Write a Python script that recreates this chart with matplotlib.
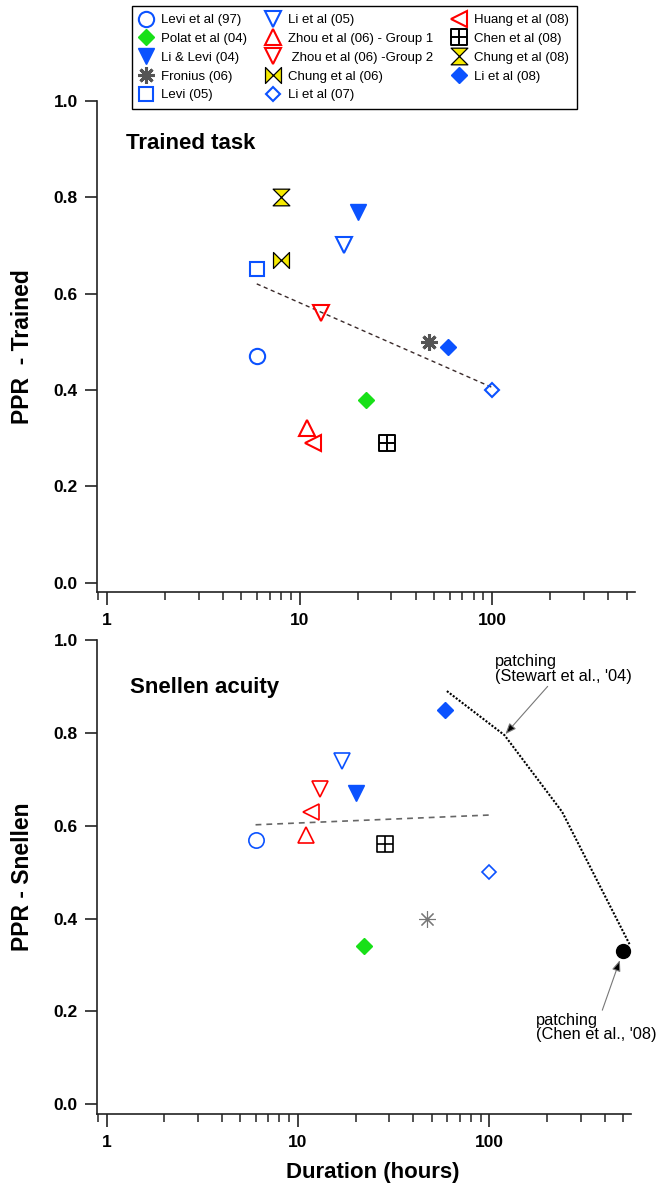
import matplotlib
matplotlib.use('Agg')
import matplotlib.pyplot as plt
import numpy as np
from matplotlib.path import Path
from matplotlib.ticker import LogLocator, NullFormatter

plt.rcParams['font.family'] = ['Liberation Sans', 'DejaVu Sans']

# ---- data ----
studies = ['Levi et al (97)', 'Polat et al (04)', 'Li & Levi (04)', 'Fronius (06)', 'Levi (05)',
           'Li et al (05)', 'Zhou et al (06) - Group 1', ' Zhou et al (06) -Group 2', 'Chung et al (06)',
           'Li et al (07)', 'Huang et al (08)', 'Chen et al (08)', 'Chung et al (08)', 'Li et al (08)']
hours = [6, 22, 20, 47, 6, 17, 11, 13, 8, 100, 11.7, 28.5, 8, 59]
ppr_trained = [0.47, 0.38, 0.77, 0.50, 0.65, 0.70, 0.32, 0.56, 0.67, 0.40, 0.29, 0.29, 0.80, 0.49]
ppr_snellen = [0.57, 0.34, 0.67, 0.40, np.nan, 0.74, 0.58, 0.68, np.nan, 0.50, 0.63, 0.56, np.nan, 0.85]

# trend lines
trained_fit_x = [6, 100]
trained_fit_y = [0.62, 0.405]
snellen_fit_x = [6, 100]
snellen_fit_y = [0.602, 0.623]

# patching (Stewart et al '04) curve and Chen et al '08 point
stewart_x = [60, 120, 240, 540]
stewart_y = [0.89, 0.795, 0.63, 0.345]
chen_patch_x = [500]
chen_patch_y = [0.33]

# ---- styles ----
BLUE = '#0b52ff'
GREEN = '#18e018'
RED = '#ff0000'
YELLOW = '#f6ea00'

hourglass = Path([(-1, 1), (1, 1), (-1, -1), (1, -1), (-1, 1)],
                 [Path.MOVETO, Path.LINETO, Path.LINETO, Path.LINETO, Path.CLOSEPOLY])
bowtie = Path([(-1, 1), (-1, -1), (1, 1), (1, -1), (-1, 1)],
              [Path.MOVETO, Path.LINETO, Path.LINETO, Path.LINETO, Path.CLOSEPOLY])
boxplus = Path([(-1, -1), (1, -1), (1, 1), (-1, 1), (-1, -1),
                (0, -1), (0, 1), (-1, 0), (1, 0)],
               [Path.MOVETO, Path.LINETO, Path.LINETO, Path.LINETO, Path.CLOSEPOLY,
                Path.MOVETO, Path.LINETO, Path.MOVETO, Path.LINETO])

markers = ['o', 'D', 'v', (8, 2, 0), 's', 'v', '^', 'v', bowtie, 'D', '<', boxplus, hourglass, 'D']
sizes = [11, 8, 11.5, 12, 10.5, 11.5, 11.5, 11.5, 11.5, 7.5, 11, 11, 12, 8]
faces = ['none', GREEN, BLUE, 'none', 'none', 'none', 'none', 'none', YELLOW, 'none', 'none', 'white', YELLOW, BLUE]
edges = [BLUE, GREEN, BLUE, '#555555', BLUE, BLUE, RED, RED, 'black', BLUE, RED, 'black', 'black', BLUE]
ew_top = [1.5, 1, 1, 2.2, 1.5, 1.5, 1.5, 1.5, 0.9, 1.5, 1.5, 1.4, 0.9, 1]
ew_bot = [1.2, 1, 1, 0.8, 1.2, 1.2, 1.2, 1.2, 0.9, 1.2, 1.2, 1.2, 0.9, 1]

fig = plt.figure(figsize=(6.58, 11.86), dpi=100)
ax1 = fig.add_axes([0.14696, 0.50059, 0.81809, 0.41450])
ax2 = fig.add_axes([0.14696, 0.06046, 0.81201, 0.39992])

for i, name in enumerate(studies):
	ax1.plot(hours[i], ppr_trained[i], linestyle='none', marker=markers[i], ms=sizes[i],
	         mfc=faces[i], mec=edges[i], mew=ew_top[i], label=name, zorder=3)
	if not np.isnan(ppr_snellen[i]):
		# Fronius is drawn lighter and thinner in the lower panel
		ax2.plot(hours[i], ppr_snellen[i], linestyle='none', marker=markers[i], ms=sizes[i],
		         mfc=faces[i], mec=edges[i] if i != 3 else '#777777', mew=ew_bot[i], zorder=3)

ax1.plot(trained_fit_x, trained_fit_y, color='#3a2a2a', lw=1.0, ls=(0, (3, 2.5)), zorder=2)
ax2.plot(snellen_fit_x, snellen_fit_y, color='#666666', lw=1.2, ls=(0, (3.5, 3)), zorder=2)
ax2.plot(stewart_x, stewart_y, color='black', lw=1.5, ls=(0, (1, 0.8)), zorder=2)
ax2.plot(chen_patch_x, chen_patch_y, 'o', color='black', ms=10, zorder=3)

ax1.text(0.055, 0.913, 'Trained task', transform=ax1.transAxes, fontsize=16, fontweight='bold',
         ha='left', va='center')
ax2.text(0.062, 0.900, 'Snellen acuity', transform=ax2.transAxes, fontsize=16, fontweight='bold',
         ha='left', va='center')

arrow = dict(arrowstyle='-|>,head_length=0.55,head_width=0.22', fc='black', ec='#777777', lw=0.8,
             shrinkA=0, shrinkB=1)
ax2.annotate("patching\n(Stewart et al., '04)", xy=(stewart_x[1], stewart_y[1]), xytext=(0.745, 0.970),
             textcoords='axes fraction', ha='left', va='top', fontsize=11.8, linespacing=0.95,
             arrowprops=arrow)
arrow2 = dict(arrow, shrinkB=7)
ax2.annotate("patching\n(Chen et al., '08)", xy=(chen_patch_x[0], chen_patch_y[0]), xytext=(0.822, 0.2136),
             textcoords='axes fraction', ha='left', va='top', fontsize=11.8, linespacing=0.95,
             arrowprops=arrow2, annotation_clip=False)

ax1.set_ylabel('PPR  - Trained', fontsize=16.5, fontweight='bold', ha='center', va='center')
ax1.yaxis.set_label_coords(-0.138, 0.5)
ax2.set_ylabel('PPR - Snellen', fontsize=16.5, fontweight='bold', ha='center', va='center')
ax2.yaxis.set_label_coords(-0.139, 0.5)
ax2.set_xlabel('Duration (hours)', fontsize=16, fontweight='bold', ha='center', va='center')
ax2.xaxis.set_label_coords(0.516, -0.122)

for ax, ylo in ((ax1, -0.0199), (ax2, -0.0215)):
	ax.set_xscale('log')
	ax.set_xlim(0.887, 550)
	ax.set_ylim(ylo, 1.0)
	ax.spines['top'].set_visible(False)
	ax.spines['right'].set_visible(False)
	for s in ('left', 'bottom'):
		ax.spines[s].set_linewidth(1.2)
		ax.spines[s].set_color('#222222')
	ax.set_xticks([1, 10, 100])
	ax.set_xticklabels(['1', '10', '100'])
	ax.xaxis.set_minor_locator(LogLocator(base=10, subs=range(2, 10)))
	ax.xaxis.set_minor_formatter(NullFormatter())
	ax.set_yticks(np.arange(0, 1.01, 0.2))
	ax.set_yticklabels(['%.1f' % v for v in np.arange(0, 1.01, 0.2)])
	ax.tick_params(axis='x', which='major', length=9, width=1.2, pad=6, labelsize=12.5, color='#222222')
	ax.tick_params(axis='x', which='minor', length=5.5, width=1.1, color='#222222')
	ax.tick_params(axis='y', which='major', length=8.5, width=1.2, pad=5, labelsize=12.5, color='#222222')
	for lab in ax.get_xticklabels() + ax.get_yticklabels():
		lab.set_fontweight('bold')

handles, labels = ax1.get_legend_handles_labels()
leg = fig.legend(handles, labels, ncol=3, loc='upper left', bbox_to_anchor=(131.7 / 658, 1 - 6 / 1186),
                 borderaxespad=0, fontsize=9.5, handlelength=1.0, handletextpad=0.6, columnspacing=1.5,
                 borderpad=0.6, labelspacing=0.5, fancybox=False, framealpha=1, edgecolor='black',
                 numpoints=1)
leg.get_frame().set_linewidth(1.0)

fig.savefig('out.png', dpi=100)
